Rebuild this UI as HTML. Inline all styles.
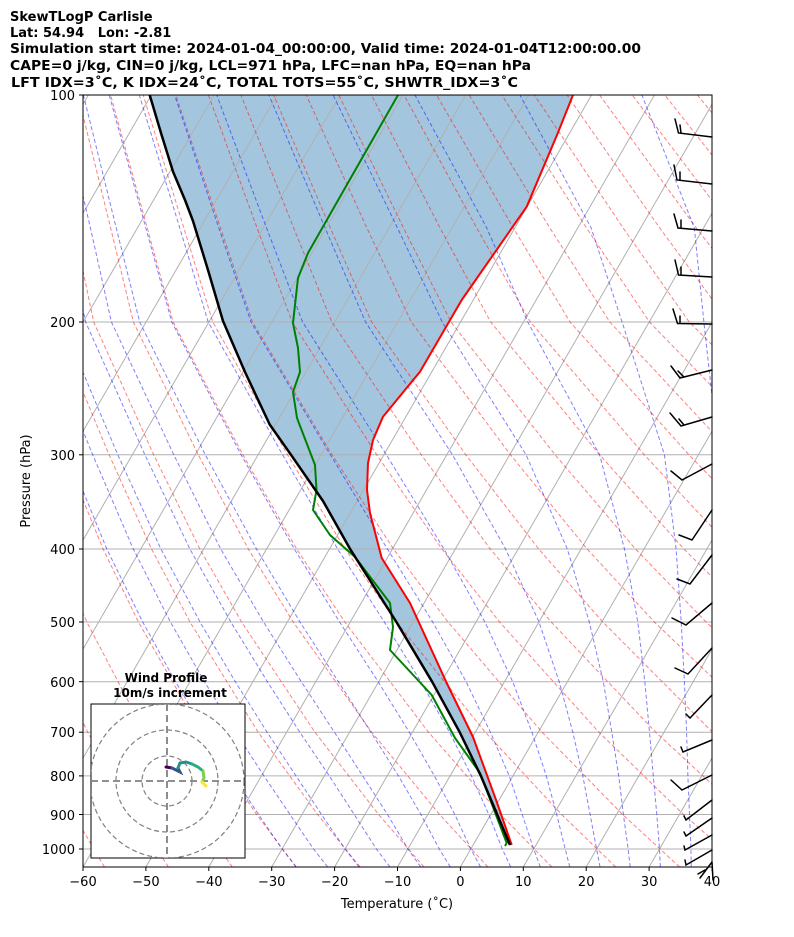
<!DOCTYPE html>
<html><head><meta charset="utf-8"><style>
html,body{margin:0;padding:0;background:#fff}
svg{display:block;font-family:"DejaVu Sans","Liberation Sans",sans-serif}
</style></head><body>
<svg width="794" height="937" viewBox="0 0 794 937" xmlns="http://www.w3.org/2000/svg">
<defs><clipPath id="cp"><rect x="83" y="95" width="629" height="772"/></clipPath>
<clipPath id="cp2"><rect x="91" y="704" width="154" height="154"/></clipPath></defs>
<rect width="794" height="937" fill="#fff"/>
<g font-weight="bold" font-size="13" fill="#000">
<text x="10" y="21">SkewTLogP Carlisle</text>
<text x="10" y="37" xml:space="preserve">Lat: 54.94   Lon: -2.81</text>
<text x="10" y="53" textLength="631" lengthAdjust="spacingAndGlyphs">Simulation start time: 2024-01-04_00:00:00, Valid time: 2024-01-04T12:00:00.00</text>
<text x="10" y="70" textLength="521" lengthAdjust="spacingAndGlyphs">CAPE=0 j/kg, CIN=0 j/kg, LCL=971 hPa, LFC=nan hPa, EQ=nan hPa</text>
<text x="11" y="87" textLength="507" lengthAdjust="spacingAndGlyphs">LFT IDX=3˚C, K IDX=24˚C, TOTAL TOTS=55˚C, SHWTR_IDX=3˚C</text>
</g>
<g clip-path="url(#cp)">
<path d="M573 95 L557 135 L526.7 206.7 L461.7 300 L420 371.7 L383 416.7 L373 440 L368 463 L367 490 L370 513 L381.7 558 L410 603 L446.7 683 L473 737 L496.7 801.7 L511.7 845 L510 845 L497.2 814.5 L480.9 775.9 L459.7 732.2 L432.1 681.7 L396.4 622 L350.1 549 L323 501 L291 454.8 L269.7 424.5 L245 372 L223 321 L208 270 L193 221 L185 200 L173 171.6 L161 133 L149.7 95 Z" fill="#a3c6de"/>
<g stroke="#b0b0b0" stroke-width="1">
<line x1="83" x2="712" y1="322" y2="322"/><line x1="83" x2="712" y1="454.8" y2="454.8"/>
<line x1="83" x2="712" y1="549" y2="549"/><line x1="83" x2="712" y1="622" y2="622"/>
<line x1="83" x2="712" y1="681.7" y2="681.7"/><line x1="83" x2="712" y1="732.2" y2="732.2"/>
<line x1="83" x2="712" y1="775.9" y2="775.9"/><line x1="83" x2="712" y1="814.5" y2="814.5"/>
<line x1="83" x2="712" y1="849" y2="849"/>
<line x1="-357.3" y1="867" x2="88.4" y2="95"/><line x1="-294.4" y1="867" x2="151.3" y2="95"/>
<line x1="-231.5" y1="867" x2="214.2" y2="95"/><line x1="-168.6" y1="867" x2="277.1" y2="95"/>
<line x1="-105.7" y1="867" x2="340" y2="95"/><line x1="-42.8" y1="867" x2="402.9" y2="95"/>
<line x1="20.1" y1="867" x2="465.8" y2="95"/><line x1="83" y1="867" x2="528.7" y2="95"/>
<line x1="145.9" y1="867" x2="591.6" y2="95"/><line x1="208.8" y1="867" x2="654.5" y2="95"/>
<line x1="271.7" y1="867" x2="717.4" y2="95"/><line x1="334.6" y1="867" x2="780.3" y2="95"/>
<line x1="397.5" y1="867" x2="843.2" y2="95"/><line x1="460.4" y1="867" x2="906.1" y2="95"/>
<line x1="523.3" y1="867" x2="969" y2="95"/><line x1="586.2" y1="867" x2="1031.9" y2="95"/>
<line x1="649.1" y1="867" x2="1094.8" y2="95"/>
</g>
<g fill="none" stroke="#ff0000" stroke-opacity="0.5" stroke-width="1" stroke-dasharray="4,2.5">
<path d="M104.5 867 L73.6 814.5 L30.9 732.2"/>
<path d="M168.4 867 L134.6 814.5 L87.7 732.2 L35.2 622"/>
<path d="M232.3 867 L195.6 814.5 L144.5 732.2 L86.8 622 L54.7 549"/>
<path d="M296.2 867 L256.6 814.5 L201.3 732.2 L138.4 622 L103.1 549 L64.5 454.8 L14.3 322"/>
<path d="M360.1 867 L317.6 814.5 L258.1 732.2 L190 622 L151.5 549 L109.1 454.8 L54 322 L37.4 227.8"/>
<path d="M424 867 L378.6 814.5 L314.9 732.2 L241.6 622 L199.9 549 L153.7 454.8 L93.7 322 L74 227.8 L45.4 95"/>
<path d="M487.9 867 L439.6 814.5 L371.7 732.2 L293.2 622 L248.3 549 L198.3 454.8 L133.4 322 L110.6 227.8 L78 95"/>
<path d="M551.8 867 L500.6 814.5 L428.5 732.2 L344.8 622 L296.7 549 L242.9 454.8 L173.1 322 L147.2 227.8 L110.6 95"/>
<path d="M615.7 867 L561.6 814.5 L485.3 732.2 L396.4 622 L345.1 549 L287.5 454.8 L212.8 322 L183.8 227.8 L143.2 95"/>
<path d="M679.6 867 L622.6 814.5 L542.1 732.2 L448 622 L393.5 549 L332.1 454.8 L252.5 322 L220.4 227.8 L175.8 95"/>
<path d="M743.5 867 L683.6 814.5 L598.9 732.2 L499.6 622 L441.9 549 L376.7 454.8 L292.2 322 L257 227.8 L208.4 95"/>
<path d="M807.4 867 L744.6 814.5 L655.7 732.2 L551.2 622 L490.3 549 L421.3 454.8 L331.9 322 L293.6 227.8 L241 95"/>
<path d="M871.3 867 L805.6 814.5 L712.5 732.2 L602.8 622 L538.7 549 L465.9 454.8 L371.6 322 L330.2 227.8 L273.6 95"/>
<path d="M935.2 867 L866.6 814.5 L769.3 732.2 L654.4 622 L587.1 549 L510.5 454.8 L411.3 322 L366.8 227.8 L306.2 95"/>
<path d="M826.1 732.2 L706 622 L635.5 549 L555.1 454.8 L451 322 L403.4 227.8 L338.8 95"/>
<path d="M882.9 732.2 L757.6 622 L683.9 549 L599.7 454.8 L490.7 322 L440 227.8 L371.4 95"/>
<path d="M809.2 622 L732.3 549 L644.3 454.8 L530.4 322 L476.6 227.8 L404 95"/>
<path d="M860.8 622 L780.7 549 L688.9 454.8 L570.1 322 L513.2 227.8 L436.6 95"/>
<path d="M829.1 549 L733.5 454.8 L609.8 322 L549.8 227.8 L469.2 95"/>
<path d="M877.5 549 L778.1 454.8 L649.5 322 L586.4 227.8 L501.8 95"/>
<path d="M822.7 454.8 L689.2 322 L623 227.8 L534.4 95"/>
<path d="M867.3 454.8 L728.9 322 L659.6 227.8 L567 95"/>
<path d="M911.9 454.8 L768.6 322 L696.2 227.8 L599.6 95"/>
<path d="M956 454.8 L808.3 322 L732.8 227.8 L632.2 95"/>
<path d="M848 322 L769.4 227.8 L664.8 95"/>
<path d="M887.7 322 L806 227.8 L697.4 95"/>
</g>
<g fill="none" stroke="#0000ff" stroke-opacity="0.5" stroke-width="1" stroke-dasharray="4,2.5">
<path d="M296.2 867 L282.1 849 L258.6 814.5 L233.1 775.9 L205.5 732.2 L175.5 681.7 L142.7 622 L106.8 549 L68.1 454.8 L17.7 322"/>
<path d="M327.7 867 L313.5 849 L290 814.5 L263.9 775.9 L235.7 732.2 L204.5 681.7 L170.4 622 L133.3 549 L92.7 454.8 L39.1 322 L23.8 227.8 L0.3 95"/>
<path d="M359.1 867 L345 849 L321.5 814.5 L296 775.9 L267.1 732.2 L235.3 681.7 L200 622 L160.9 549 L117.8 454.8 L61.7 322 L44.5 227.8 L19.2 95"/>
<path d="M390 867 L376.4 849 L354.2 814.5 L329.3 775.9 L299.8 732.2 L267.4 681.7 L230.8 622 L189.9 549 L144.9 454.8 L85.6 322 L66.5 227.8 L38.7 95"/>
<path d="M420.8 867 L407.9 849 L387.5 814.5 L362.7 775.9 L334.4 732.2 L301.3 681.7 L263.5 622 L220.7 549 L173.8 454.8 L111.4 322 L90.4 227.8 L59.5 95"/>
<path d="M450.3 867 L439.3 849 L420.9 814.5 L398.5 775.9 L370.9 732.2 L338.4 681.7 L300 622 L256.5 549 L205.3 454.8 L139.7 322 L116.2 227.8 L83.4 95"/>
<path d="M480.5 867 L470.8 849 L454.8 814.5 L434.4 775.9 L409.3 732.2 L378.1 681.7 L339.6 622 L294.3 549 L241.1 454.8 L171.8 322 L145.8 227.8 L109.2 95"/>
<path d="M510.7 867 L502.3 849 L488.8 814.5 L471.5 775.9 L449.5 732.2 L420.8 681.7 L384.3 622 L337.7 549 L282.6 454.8 L208.2 322 L179.7 227.8 L139.3 95"/>
<path d="M540.3 867 L533.7 849 L522.2 814.5 L509.2 775.9 L490.4 732.2 L466.1 681.7 L432.7 622 L387.4 549 L330.4 454.8 L251 322 L218.7 227.8 L174.6 95"/>
<path d="M569.8 867 L565.2 849 L556.7 814.5 L546.3 775.9 L531.9 732.2 L512.7 681.7 L484.9 622 L444 549 L386.4 454.8 L302.6 322 L266.5 227.8 L216.7 95"/>
<path d="M600 867 L596.6 849 L590.1 814.5 L582.8 775.9 L572.8 732.2 L559.2 681.7 L539 622 L505.6 549 L452.5 454.8 L365.5 322 L325 227.8 L268.9 95"/>
<path d="M630.2 867 L628.1 849 L623.4 814.5 L618.7 775.9 L611.8 732.2 L603.3 681.7 L589.3 622 L567.3 549 L526.1 454.8 L442.2 322 L397.4 227.8 L333.1 95"/>
<path d="M660.4 867 L659.5 849 L656.8 814.5 L653.3 775.9 L649.5 732.2 L644.8 681.7 L637.8 622 L624.5 549 L599.6 454.8 L527.8 322 L486.7 227.8 L414.9 95"/>
<path d="M691.2 867 L691 849 L689.5 814.5 L687.9 775.9 L686.6 732.2 L684.4 681.7 L681.2 622 L676.1 549 L664.4 454.8 L622.1 322 L591.1 227.8 L519.9 95"/>
<path d="M722 867 L722 681.7 L720.7 549 L718.5 454.8 L703.9 322 L694.3 227.8 L641.9 95"/>
</g>
<path d="M573 95 L557 135 L526.7 206.7 L461.7 300 L420 371.7 L383 416.7 L373 440 L368 463 L367 490 L370 513 L381.7 558 L410 603 L446.7 683 L473 737 L496.7 801.7 L511.7 845" fill="none" stroke="#ff0000" stroke-width="2" stroke-linejoin="round"/>
<path d="M398 95 L308 253 L298 278 L293 323 L298 348 L300 372 L293 392 L297 418 L315 465 L316.5 490 L313 510 L330 535 L355 557 L390 603 L393 627 L390 650 L431.7 695 L455 738 L480 773 L506.7 843 L505 846" fill="none" stroke="#008000" stroke-width="2" stroke-linejoin="round"/>
<path d="M510 845 L497.2 814.5 L480.9 775.9 L459.7 732.2 L432.1 681.7 L396.4 622 L350.1 549 L323 501 L291 454.8 L269.7 424.5 L245 372 L223 321 L208 270 L193 221 L185 200 L173 171.6 L161 133 L149.7 95" fill="none" stroke="#000" stroke-width="2.5" stroke-linejoin="round"/>
</g>
<rect x="83" y="95" width="629" height="772" fill="none" stroke="#000" stroke-width="1"/>
<g font-size="13" fill="#000" text-anchor="end">
<g stroke="#000"><line x1="79" x2="83" y1="95" y2="95"/><line x1="79" x2="83" y1="322" y2="322"/><line x1="79" x2="83" y1="454.8" y2="454.8"/><line x1="79" x2="83" y1="549" y2="549"/><line x1="79" x2="83" y1="622" y2="622"/><line x1="79" x2="83" y1="681.7" y2="681.7"/><line x1="79" x2="83" y1="732.2" y2="732.2"/><line x1="79" x2="83" y1="775.9" y2="775.9"/><line x1="79" x2="83" y1="814.5" y2="814.5"/><line x1="79" x2="83" y1="849" y2="849"/></g>
<text x="75" y="100">100</text><text x="75" y="327">200</text><text x="75" y="460">300</text><text x="75" y="554">400</text><text x="75" y="627">500</text><text x="75" y="687">600</text><text x="75" y="737">700</text><text x="75" y="781">800</text><text x="75" y="820">900</text><text x="75" y="854">1000</text>
</g>
<g font-size="13" fill="#000" text-anchor="middle">
<g stroke="#000"><line x1="83" x2="83" y1="867" y2="871"/><line x1="145.9" x2="145.9" y1="867" y2="871"/><line x1="208.8" x2="208.8" y1="867" y2="871"/><line x1="271.7" x2="271.7" y1="867" y2="871"/><line x1="334.6" x2="334.6" y1="867" y2="871"/><line x1="397.5" x2="397.5" y1="867" y2="871"/><line x1="460.4" x2="460.4" y1="867" y2="871"/><line x1="523.3" x2="523.3" y1="867" y2="871"/><line x1="586.2" x2="586.2" y1="867" y2="871"/><line x1="649.1" x2="649.1" y1="867" y2="871"/><line x1="712" x2="712" y1="867" y2="871"/></g>
<text x="83" y="886">−60</text><text x="145.9" y="886">−50</text><text x="208.8" y="886">−40</text><text x="271.7" y="886">−30</text><text x="334.6" y="886">−20</text><text x="397.5" y="886">−10</text><text x="460.4" y="886">0</text><text x="523.3" y="886">10</text><text x="586.2" y="886">20</text><text x="649.1" y="886">30</text><text x="712" y="886">40</text>
</g>
<text x="30" y="481" font-size="13" text-anchor="middle" transform="rotate(-90 30 481)">Pressure (hPa)</text>
<text x="397" y="908" font-size="13" text-anchor="middle">Temperature (˚C)</text>
<g stroke="#000" stroke-width="1.5" fill="none" stroke-linecap="round">
<path d="M712 137 L678.5 133 L675 119 M681 133 L680 125"/>
<path d="M712 184 L677 180 L674 165 M680 180 L680 172"/>
<path d="M712 231 L678 228 L674 214 M681 228 L681 220"/>
<path d="M712 277 L678.5 275 L675 260 M681 275 L681 267"/>
<path d="M712 324 L677.5 323.5 L673 309 M680 323.5 L680 316"/>
<path d="M712 370 L680 378 L671 366 M684 377 L678 371"/>
<path d="M712 417 L681 426 L670 413 M684 425 L679 419"/>
<path d="M712 464 L682 480 L671 471"/>
<path d="M712 510 L692 540 L679 535"/>
<path d="M712 555 L690 584 L677 579"/>
<path d="M712 603 L686 625 L672 618"/>
<path d="M712 648 L688 674 L675 668"/>
<path d="M712 695 L690 718 L686 714"/>
<path d="M712 740 L683 752 L681 747"/>
<path d="M712 775 L682 790 L671 780"/>
<path d="M712 800 L686 820 L684 816"/>
<path d="M712 818 L686 836 L684 832"/>
<path d="M712 835 L685 850 L684 846"/>
<path d="M712 850 L686 865 L685 860"/>
<path d="M712 862 L700 878 M712 862 L713 880 M705 870 L698 874"/>
</g>
<text x="166" y="682" font-size="12" font-weight="bold" text-anchor="middle">Wind Profile</text>
<text x="170" y="697" font-size="12" font-weight="bold" text-anchor="middle">10m/s increment</text>
<rect x="91" y="704" width="154" height="154" fill="#fff" stroke="#000" stroke-width="1"/>
<g clip-path="url(#cp2)" stroke="#808080" stroke-dasharray="5,3" fill="none" stroke-width="1.2">
<circle cx="167" cy="781" r="25"/><circle cx="167" cy="781" r="51"/><circle cx="167" cy="781" r="77"/>
<line x1="167" y1="704" x2="167" y2="858" stroke-width="1.8" stroke-dasharray="7,4"/>
<line x1="91" y1="781" x2="245" y2="781" stroke-width="1.8" stroke-dasharray="7,4"/>
</g>
<g fill="none" stroke-width="3" stroke-linecap="round">
<path d="M166 767 L172 768" stroke="#440154"/>
<path d="M172 768 L176 770 L180 772 L178 768" stroke="#3b528b"/>
<path d="M178 768 L180 763 L186 762 L192 764" stroke="#21918c"/>
<path d="M192 764 L198 767 L203 771" stroke="#2ab07f"/>
<path d="M203 771 L204 778 L202 782" stroke="#7ad151"/>
<path d="M202 782 L206 786" stroke="#fde725"/>
</g>
</svg>
</body></html>
